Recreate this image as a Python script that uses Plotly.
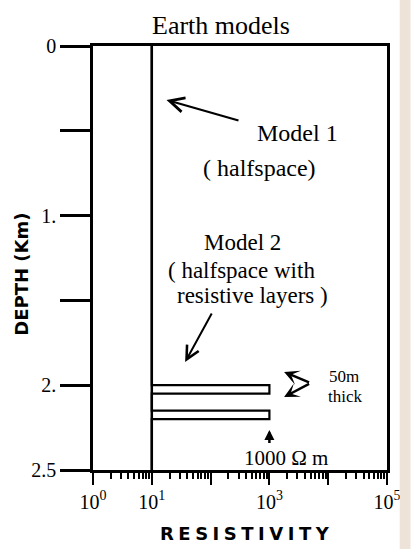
import plotly.graph_objects as go

# ---- data ----
rho_halfspace = 10          # ohm-m, Model 1 halfspace
rho_layer = 1000            # ohm-m, resistive layers of Model 2
depth_max = 2.5             # km
layer_tops = [2.0, 2.15]    # km
layer_thickness = 0.05      # km (50 m)

m1_rho = [rho_halfspace, rho_halfspace]
m1_depth = [0, depth_max]

# Model 2 profile path built from layer data
m2_rho = [rho_halfspace]
m2_depth = [0]
for top in layer_tops:
    bot = top + layer_thickness
    m2_rho += [rho_halfspace, rho_layer, rho_layer, rho_halfspace]
    m2_depth += [top, top, bot, bot]
m2_rho.append(rho_halfspace)
m2_depth.append(depth_max)

x_tickvals = [1, 10, 100, 1000, 10000, 100000]
x_ticktext = ["10<sup>0</sup>", "10<sup>1</sup>", "", "10<sup>3</sup>", "", "10<sup>5</sup>"]
y_tickvals = [0, 0.5, 1.0, 1.5, 2.0, 2.5]
y_ticktext = ["0", "", "1.", "", "2.", "2.5"]

SERIF = "Liberation Serif"
SANS = "DejaVu Sans"

fig = go.Figure()
fig.add_trace(go.Scatter(x=m1_rho, y=m1_depth, mode="lines",
                         line=dict(color="black", width=2.5), showlegend=False))
fig.add_trace(go.Scatter(x=m2_rho, y=m2_depth, mode="lines",
                         line=dict(color="black", width=2.2), showlegend=False))

fig.update_xaxes(type="log", range=[0, 5], showline=True, linecolor="black", linewidth=2.5,
                 mirror=True, ticks="outside", ticklen=12, tickwidth=2, tickcolor="black",
                 tickvals=x_tickvals, ticktext=x_ticktext, showgrid=False, zeroline=False,
                 tickfont=dict(family=SERIF, size=20, color="black"),
                 minor=dict(ticks="outside", ticklen=6, tickwidth=1.5, tickcolor="black",
                            dtick="D1", showgrid=False))
fig.update_yaxes(range=[depth_max, 0], showline=True, linecolor="black", linewidth=2.5,
                 mirror=True, ticks="outside", ticklen=30, tickwidth=2.5, tickcolor="black",
                 tickvals=y_tickvals, ticktext=y_ticktext, showgrid=False, zeroline=False,
                 tickfont=dict(family=SERIF, size=20, color="black"))

def txt(x, y, s, size=24, family=SERIF):
    fig.add_annotation(x=x, y=y, xref="x", yref="y", text=s, showarrow=False,
                       xanchor="center", yanchor="middle",
                       font=dict(family=family, size=size, color="black"))

def arrow(x0, y0, x1, y1, head=1, size=1.0, width=2):
    fig.add_annotation(x=x1, y=y1, ax=x0, ay=y0, xref="x", yref="y", axref="x", ayref="y",
                       text="", showarrow=True, arrowhead=head, arrowsize=size,
                       arrowwidth=width, arrowcolor="black")

txt(3.47, 0.513, "Model 1")
txt(2.83, 0.72, "( halfspace)")
txt(2.55, 1.16, "Model 2", size=23)
txt(2.53, 1.321, "( halfspace with", size=23)
txt(2.72, 1.474, "resistive layers )", size=23)
txt(4.27, 1.946, "50m", size=17)
txt(4.28, 2.064, "thick", size=17)
txt(3.28, 2.43, "1000 \u03a9 m", size=21)

arrow(2.5, 0.442, 1.25, 0.318, head=5, size=1.3, width=2.2)
arrow(2.033, 1.568, 1.567, 1.863, head=5, size=1.3, width=2)
arrow(3.7, 1.987, 3.25, 1.922, head=3, size=1.0, width=2.5)
arrow(3.7, 1.987, 3.25, 2.07, head=3, size=1.0, width=2.5)
arrow(3.0, 2.35, 3.0, 2.264, head=2, size=0.8, width=2.5)

# title and axis titles
fig.add_annotation(x=0.437, y=1.0495, xref="paper", yref="paper", text="Earth models",
                   showarrow=False, xanchor="center", yanchor="middle",
                   font=dict(family=SERIF, size=26, color="black"))
sp = "\u2005"
fig.add_annotation(x=0.517, y=-0.1486, xref="paper", yref="paper",
                   text=sp.join("RESISTIVITY"), showarrow=False,
                   xanchor="center", yanchor="middle",
                   font=dict(family=SANS, size=18, color="black", weight="bold"))
fig.add_annotation(x=-0.243, y=0.462, xref="paper", yref="paper", text="DEPTH (Km)",
                   textangle=-90, showarrow=False, xanchor="center", yanchor="middle",
                   font=dict(family=SANS, size=18, color="black", weight="bold"))

# scanned-paper edge on the right
fig.add_shape(type="rect", xref="paper", yref="paper", x0=1.0433, x1=1.08, y0=-0.3, y1=1.2,
              fillcolor="#ede3d8", line=dict(width=0), layer="above")

fig.update_layout(width=413, height=549, margin=dict(l=93, r=20, t=46, b=79),
                  paper_bgcolor="white", plot_bgcolor="white")

fig.write_html("out.html")
